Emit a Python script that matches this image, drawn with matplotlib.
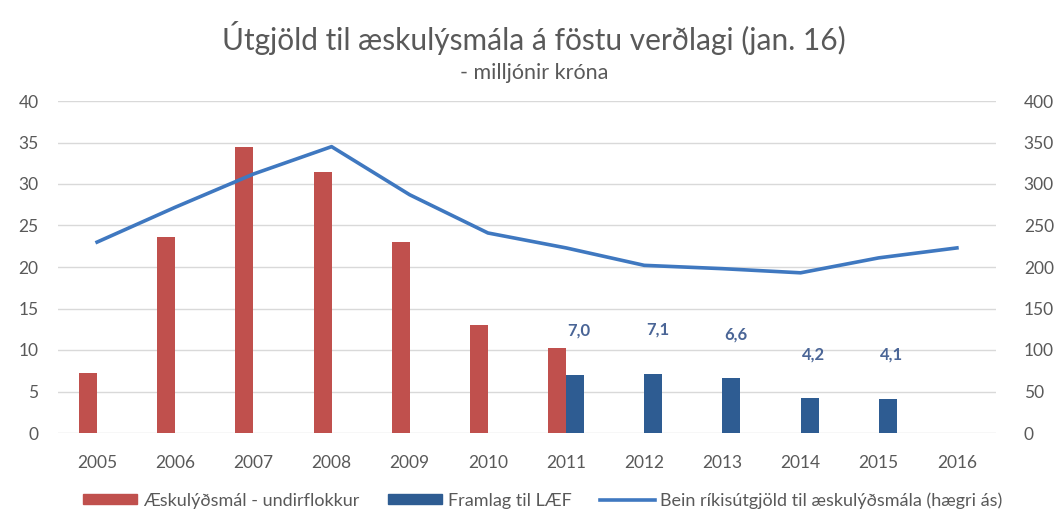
import matplotlib
matplotlib.use("Agg")
import matplotlib.pyplot as plt
from matplotlib.patches import Patch
from matplotlib.lines import Line2D

# gögn lesin af myndinni
years = ["2005", "2006", "2007", "2008", "2009", "2010",
         "2011", "2012", "2013", "2014", "2015", "2016"]
aeskulyd = [7.2, 23.6, 34.5, 31.4, 23.0, 13.0, 10.2, None, None, None, None, None]
framlag_laef = [None, None, None, None, None, None, 7.0, 7.1, 6.6, 4.2, 4.1, None]
bein_utgjold = [230, 272, 312, 345, 287, 241, 223, 202, 198, 193, 211, 223]

RED = "#C0504D"
DARK_BLUE = "#2E5C92"
LINE_BLUE = "#3F78C0"
GRAY = "#595959"

plt.rcParams["font.family"] = ["Lato", "DejaVu Sans"]

fig = plt.figure(figsize=(10.56, 5.17), dpi=100)
ax = fig.add_axes([58 / 1056, 84 / 517, 938 / 1056, 332 / 517])
ax2 = ax.twinx()

x = list(range(len(years)))
w = 0.23

rx = [i - w / 2 for i, v in zip(x, aeskulyd) if v is not None]
rv = [v for v in aeskulyd if v is not None]
ax.bar(rx, rv, w, color=RED, zorder=2)

bx = [i + w / 2 for i, v in zip(x, framlag_laef) if v is not None]
bv = [v for v in framlag_laef if v is not None]
ax.bar(bx, bv, w, color=DARK_BLUE, zorder=2)
for xi, v in zip(bx, bv):
    ax.annotate(f"{v:.1f}".replace(".", ","), (xi, v), xytext=(3, 26),
                textcoords="offset points", ha="center", va="bottom",
                fontsize=12, fontweight="bold", color="#4A6596")

ax2.plot(x, bein_utgjold, color=LINE_BLUE, linewidth=2.6, zorder=3)

ax.set_xlim(-0.5, len(years) - 0.5)
ax.set_ylim(0, 40)
ax2.set_ylim(0, 400)
ax.set_yticks(range(0, 41, 5))
ax2.set_yticks(range(0, 401, 50))
ax.set_xticks(x)
ax.set_xticklabels(years)

ax.grid(axis="y", color="#D9D9D9", linewidth=1.0, zorder=0)
ax.set_axisbelow(True)
for a in (ax, ax2):
    for s in a.spines.values():
        s.set_visible(False)
    a.tick_params(length=0, colors=GRAY, labelsize=12.5)
ax.tick_params(axis="y", pad=14)
ax2.tick_params(axis="y", pad=20)
ax.tick_params(axis="x", pad=16)

fig.text(0.506, 0.927, "Útgjöld til æskulýsmála á föstu verðlagi (jan. 16)",
         ha="center", va="center", fontsize=21.5, color=GRAY)
fig.text(0.506, 0.858, "- milljónir króna", ha="center", va="center",
         fontsize=15.5, color=GRAY)

handles = [
    Patch(color=RED),
    Patch(color=DARK_BLUE),
    Line2D([], [], color=LINE_BLUE, linewidth=2.6),
]
labels = ["Æskulýðsmál - undirflokkur", "Framlag til LÆF",
          "Bein ríkisútgjöld til æskulýðsmála (hægri ás)"]
leg = fig.legend(handles, labels, loc="center", bbox_to_anchor=(0.514, 0.032),
                 ncol=3, frameon=False, fontsize=13, handlelength=3.0,
                 handleheight=0.5, handletextpad=0.3, columnspacing=1.6)
for t in leg.get_texts():
    t.set_color(GRAY)

plt.savefig("out.png", dpi=100)
plt.close()
